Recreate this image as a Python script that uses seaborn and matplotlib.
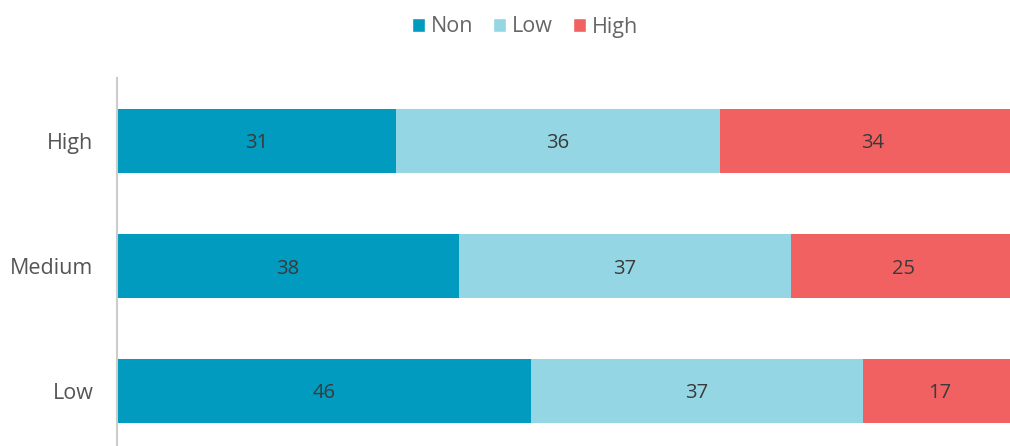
import numpy as np
import pandas as pd
import seaborn as sns
import matplotlib.pyplot as plt
from matplotlib.patches import Patch

groups = ['High', 'Medium', 'Low']
series = ['Non', 'Low', 'High']
non_vals = [31, 38, 46]
low_vals = [36, 37, 37]
high_vals = [34, 25, 17]
colors = {'Non': '#009BBE', 'Low': '#94D6E3', 'High': '#F26161'}

sns.set_style('white')
plt.rcParams['font.family'] = ['Open Sans', 'DejaVu Sans']

df = pd.DataFrame({'group': groups, 'Non': non_vals, 'Low': low_vals, 'High': high_vals})
cum = df[series].cumsum(axis=1)

fig = plt.figure(figsize=(10.1, 4.46), dpi=100)
ax = fig.add_axes([117 / 1010, 0, 1 - 117 / 1010, (446 - 78) / 446])

# draw cumulative totals back to front so they look stacked
for s in reversed(series):
    sns.barplot(x=cum[s], y=df['group'], color=colors[s], orient='h',
                width=0.505, saturation=1, linewidth=0, ax=ax)

for i, row in df.iterrows():
    for s in series:
        ax.text(cum.loc[i, s] - row[s] / 2, i + 0.02, str(row[s]), ha='center', va='center',
                fontsize=14.5, color='#3a3a3a')

ax.set_xlim(0, 99.3)
ax.set_ylim(2.44, -0.504)
ax.set_xlabel('')
ax.set_ylabel('')
ax.set_xticks([])
ax.tick_params(axis='y', length=0, pad=17, labelsize=15.5, labelcolor='#555555')
for side in ['top', 'right', 'bottom']:
    ax.spines[side].set_visible(False)
ax.spines['left'].set_color('#cccccc')
ax.spines['left'].set_linewidth(1.5)

handles = [Patch(facecolor=colors[s], label=s) for s in series]
leg = fig.legend(handles=handles, loc='center', bbox_to_anchor=(525 / 1010, 1 - 27 / 446),
                 ncol=3, frameon=False, fontsize=15.5, handlelength=0.6, handleheight=0.6,
                 handletextpad=0.3, columnspacing=0.9)
for t in leg.get_texts():
    t.set_color('#666666')

fig.savefig('out.png', dpi=100)
